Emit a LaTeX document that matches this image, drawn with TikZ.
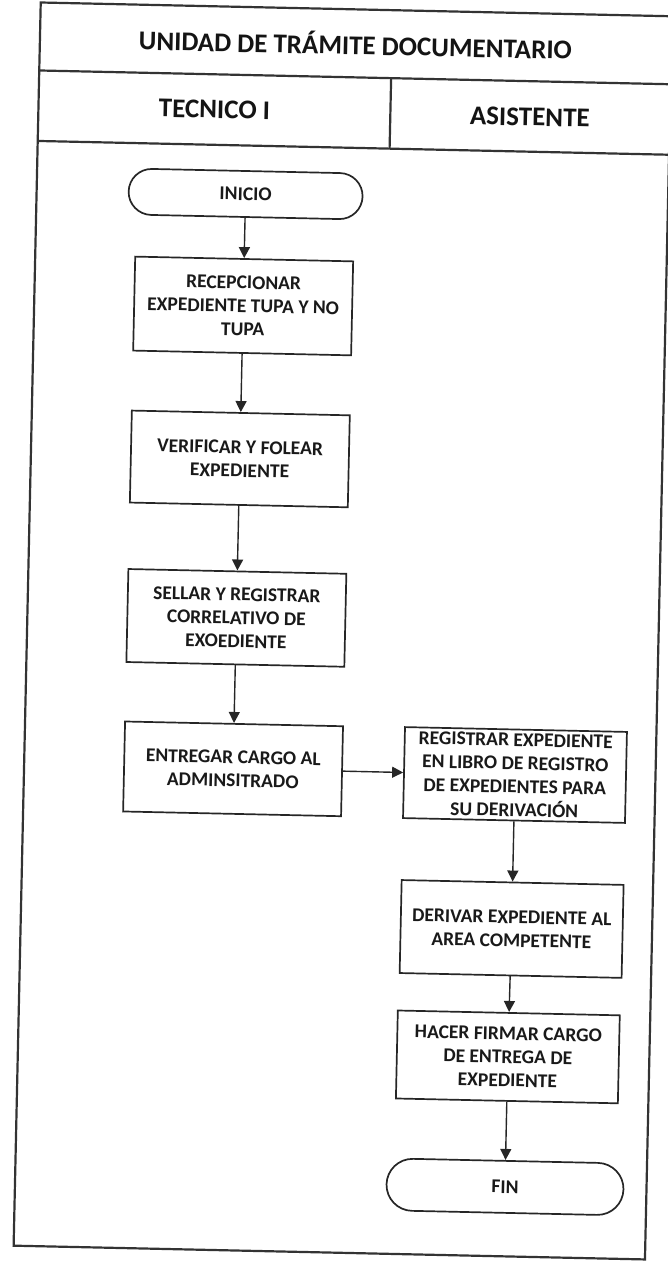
\documentclass[tikz,border=0pt]{standalone}
\usepackage{fontspec}
\setmainfont{Carlito}
\usetikzlibrary{arrows.meta,shapes.misc}
\begin{document}
\begin{tikzpicture}[x=1pt,y=-1pt,
  ink/.style={draw=black!85, line width=1.7pt},
  boxfont/.style={font=\fontsize{19.5}{23.4}\selectfont\bfseries, text=black!90},
  stepbox/.style={ink, boxfont, rectangle, align=center, inner sep=0pt,
    minimum width=218pt, minimum height=92pt},
  terminal/.style={ink, boxfont, rounded rectangle, align=center, inner sep=0pt,
    minimum width=234pt, minimum height=46pt},
  flow/.style={draw=black!85, line width=1.4pt, -{Triangle[length=11pt,width=11pt]}},
  frame/.style={draw=black!80, line width=2.2pt},
  head/.style={font=\fontsize{27}{32}\selectfont\bfseries, text=black!92}
]
\useasboundingbox (0,0) rectangle (667,1271);
\begin{scope}[rotate around={-1.25:(333,635)}, transform shape]
  % outer frame and header rows
  \draw[frame] (27,9) rectangle (658.5,1252.5);
  \draw[frame] (27,77) -- (658.5,77);
  \draw[frame] (27,147.5) -- (658.5,147.5);
  \coordinate (divtop) at (379,77);
  \coordinate (divbot) at (379,147.5);
  \draw[frame] (divtop) -- (divbot);

  % header texts
  \node[head] (title) at (342.5,43) {UNIDAD DE TRÁMITE DOCUMENTARIO};
  \node[head] (lane1) at (203,112) {TECNICO I};
  \node[head] (lane2) at (518.5,113) {ASISTENTE};

  % TECNICO I lane
  \node[terminal] (inicio) at (236,196) {INICIO};
  \node[stepbox, minimum height=94pt] (recep) at (236,308)
    {RECEPCIONAR\\EXPEDIENTE TUPA Y NO\\TUPA};
  \node[stepbox] (verif) at (236,461) {VERIFICAR Y FOLEAR\\EXPEDIENTE};
  \node[stepbox, minimum height=93pt] (sellar) at (236,620)
    {SELLAR Y REGISTRAR\\CORRELATIVO DE\\EXOEDIENTE};
  \node[stepbox, minimum height=90pt] (entregar) at (236,771)
    {ENTREGAR CARGO AL\\ADMINSITRADO};

  % ASISTENTE lane
  \node[stepbox, minimum width=222pt, minimum height=91pt] (registrar) at (518,771)
    {REGISTRAR EXPEDIENTE\\EN LIBRO DE REGISTRO\\DE EXPEDIENTES PARA\\SU DERIVACIÓN};
  \node[stepbox, minimum width=222pt, minimum height=93pt] (derivar) at (518,925)
    {DERIVAR EXPEDIENTE AL\\AREA COMPETENTE};
  \node[stepbox, minimum width=222pt, minimum height=88pt] (hacer) at (517,1053)
    {HACER FIRMAR CARGO\\DE ENTREGA DE\\EXPEDIENTE};
  \node[terminal, minimum width=237pt, minimum height=52pt] (fin) at (517,1183) {FIN};

  % connectors
  \draw[flow] (inicio) -- (recep);
  \draw[flow] (recep) -- (verif);
  \draw[flow] (verif) -- (sellar);
  \draw[flow] (sellar) -- (entregar);
  \draw[flow] (entregar) -- (registrar);
  \draw[flow] (registrar) -- (derivar);
  \draw[flow] (derivar) -- (hacer);
  \draw[flow] (hacer) -- (fin);
\end{scope}
\end{tikzpicture}
\end{document}
